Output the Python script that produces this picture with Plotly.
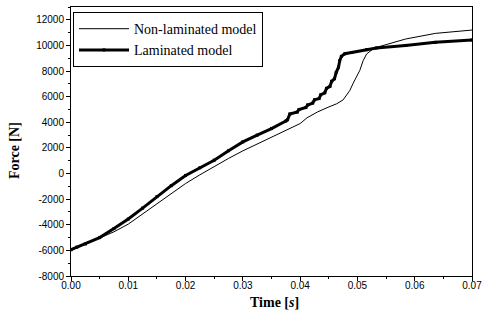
import plotly.graph_objects as go

# Non-laminated model (thin line)
t_non = [0.0, 0.0025, 0.005, 0.0075, 0.01, 0.0125, 0.015, 0.0175, 0.02, 0.0225,
         0.025, 0.0275, 0.03, 0.0325, 0.035, 0.0378, 0.04, 0.0412, 0.043, 0.0447,
         0.0464, 0.0475, 0.0481, 0.0487, 0.0492, 0.0498, 0.0504, 0.051, 0.0516,
         0.0527, 0.0533, 0.055, 0.0584, 0.0636, 0.07]
f_non = [-6000, -5520, -5050, -4550, -3950, -3150, -2350, -1550, -780, -100,
         570, 1180, 1770, 2300, 2810, 3400, 3900, 4350, 4800, 5140,
         5450, 5750, 6100, 6500, 7000, 7500, 8040, 8810, 9330,
         9720, 9850, 10060, 10500, 10940, 11200]

# Laminated model (thick line with markers)
t_lam = [0.0, 0.001, 0.0025, 0.005, 0.0075, 0.01, 0.0125, 0.015, 0.0175, 0.02,
         0.0225, 0.025, 0.0275, 0.03, 0.0325, 0.035, 0.0375, 0.0378, 0.0382,
         0.0395, 0.0398, 0.041, 0.0413, 0.0422, 0.0425, 0.0433, 0.0436, 0.0443,
         0.0446, 0.0452, 0.0455, 0.046, 0.0463, 0.0467, 0.0469, 0.0472, 0.0478,
         0.049, 0.0516, 0.0533, 0.0584, 0.0636, 0.07]
f_lam = [-5950, -5750, -5500, -5000, -4300, -3550, -2700, -1800, -950, -150,
         450, 1040, 1780, 2470, 3000, 3510, 4100, 4200, 4650,
         4800, 5000, 5150, 5350, 5500, 5750, 5850, 6150, 6300,
         6650, 6800, 7200, 7400, 7900, 8300, 8800, 9150, 9350,
         9450, 9670, 9800, 10000, 10240, 10420]

x_ticks = [0.0, 0.01, 0.02, 0.03, 0.04, 0.05, 0.06, 0.07]
x_labels = ["0.00", "0.01", "0.02", "0.03", "0.04", "0.05", "0.06", "0.07"]
y_ticks = [-8000, -6000, -4000, -2000, 0, 2000, 4000, 6000, 8000, 10000, 12000]
y_labels = ["-8000", "-6000", "-4000", "-2000", "0", "2000", "4000", "6000",
            "8000", "10000", "12000"]

fig = go.Figure()
fig.add_trace(go.Scatter(x=t_non, y=f_non, mode="lines", name="Non-laminated model",
                         line=dict(color="black", width=1)))
fig.add_trace(go.Scatter(x=t_lam, y=f_lam, mode="lines+markers", name="Laminated model",
                         line=dict(color="black", width=3),
                         marker=dict(symbol="square", size=3, color="black")))

tickfont = dict(family="Liberation Sans", size=10, color="black")
titlefont = dict(family="Liberation Serif", size=14, color="black")
fig.update_layout(
    width=488, height=324,
    margin=dict(l=71, r=11, t=6, b=48),
    paper_bgcolor="white", plot_bgcolor="white",
    showlegend=True,
    legend=dict(x=0.005, y=0.981, xanchor="left", yanchor="top",
                bgcolor="white", bordercolor="black", borderwidth=1,
                font=dict(family="Liberation Serif", size=14, color="black"),
                itemwidth=50, tracegroupgap=0),
    xaxis=dict(range=[0, 0.07], tickvals=x_ticks, ticktext=x_labels,
               showline=True, linecolor="black", linewidth=1, mirror=True,
               ticks="outside", ticklen=4, tickcolor="black", showgrid=False,
               zeroline=False, tickfont=tickfont, ticklabelstandoff=-4,
               minor=dict(dtick=0.005, ticks="outside", ticklen=2, tickcolor="black", showgrid=False)),
    yaxis=dict(range=[-8000, 13000], tickvals=y_ticks, ticktext=y_labels,
               showline=True, linecolor="black", linewidth=1, mirror=True,
               ticks="outside", ticklen=4, tickcolor="black", showgrid=False,
               zeroline=False, tickfont=tickfont,
               minor=dict(dtick=1000, ticks="outside", ticklen=2, tickcolor="black", showgrid=False)),
    annotations=[
        dict(text="<b>Time [<i>s</i>]</b>", xref="paper", yref="paper",
             x=0.507, y=-0.1, xanchor="center", yanchor="middle",
             showarrow=False, font=titlefont),
        dict(text="<b>Force [N]</b>", xref="paper", yref="paper",
             x=-0.1404, y=0.467, xanchor="center", yanchor="middle",
             textangle=-90, showarrow=False, font=titlefont),
    ],
)

fig.write_html("out.html", config={"displayModeBar": False},
               post_script="document.body.style.margin='0';")
